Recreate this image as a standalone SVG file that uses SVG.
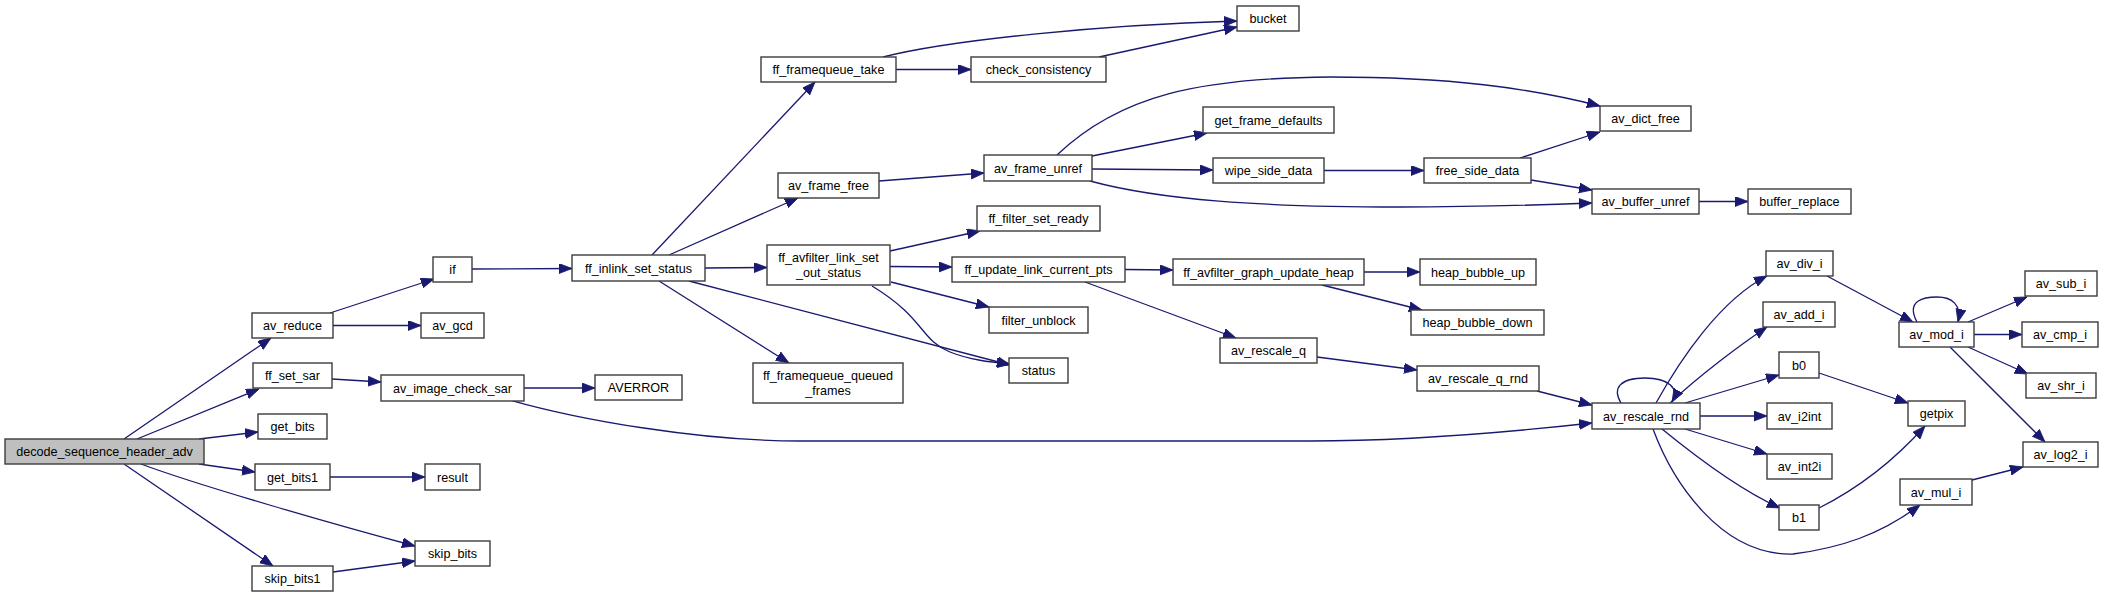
<svg xmlns="http://www.w3.org/2000/svg" width="2104" height="597" viewBox="0 0 2104 597">
<style>
.n rect{fill:#ffffff;stroke:#3c3c3c;stroke-width:1.4}
.n.root rect{fill:#bfbfbf}
.n text{font-family:"Liberation Sans",Arial,sans-serif;font-size:12.6px;fill:#000;text-anchor:middle}
.e path{fill:none;stroke:#191970;stroke-width:1.3;marker-end:url(#ah)}
</style>
<defs>
<marker id="ah" markerUnits="userSpaceOnUse" markerWidth="14" markerHeight="11" refX="13" refY="5" orient="auto">
<path d="M0,0 L13,5 L0,10 z" fill="#191970" stroke="#191970" stroke-width="0.8"/>
</marker>
</defs>
<rect width="2104" height="597" fill="#ffffff"/>
<g id="edges" class="e">
<path d="M124,439 L271,338"/>
<path d="M137,439 L259,389"/>
<path d="M199,439 L258,432"/>
<path d="M199,464 L255,472"/>
<path d="M141,464 C200,486 340,526 415,546"/>
<path d="M124,464 L273,566"/>
<path d="M330,313 L434,279"/>
<path d="M333,325.5 L421,325.5"/>
<path d="M332,379 L381,382"/>
<path d="M330,477 L425,477"/>
<path d="M333,572 L415,561"/>
<path d="M472,269 L572,268.5"/>
<path d="M524,388 L595,388"/>
<path d="M510,400 C580,420 700,441 800,441 L1310,441 C1420,441 1520,431 1592,423"/>
<path d="M652,255 L815,82"/>
<path d="M669,255 L798,198"/>
<path d="M705,268 L767,267.5"/>
<path d="M659,281 L789,363"/>
<path d="M689,281 L1010,365"/>
<path d="M883,57 C950,40 1100,25 1237,21"/>
<path d="M896,69.5 L971,69.5"/>
<path d="M1099,57 L1237,27"/>
<path d="M879,181 L984,173"/>
<path d="M1057,155 C1120,95 1200,78 1330,77 C1450,77 1530,88 1600,106"/>
<path d="M1092,156 L1207,133"/>
<path d="M1092,169 L1213,170"/>
<path d="M1090,181 C1160,200 1260,207 1400,207 C1480,207 1540,205 1592,203"/>
<path d="M1324,170.5 L1424,170.5"/>
<path d="M1520,158 L1600,132"/>
<path d="M1531,180 L1592,190"/>
<path d="M1699,201.5 L1748,201.5"/>
<path d="M890,251 L980,231"/>
<path d="M890,266.5 L952,267"/>
<path d="M891,282 L989,307"/>
<path d="M872,286 C925,318 920,340 950,352 C970,360 990,362 1010,364"/>
<path d="M1125,269.5 L1173,270"/>
<path d="M1085,282 L1236,338"/>
<path d="M1364,272 L1420,272"/>
<path d="M1322,285 L1422,310"/>
<path d="M1317,357 L1417,370"/>
<path d="M1537,391 L1592,405"/>
<path d="M1621,403 C1612,388 1620,378 1645,378 C1668,378 1680,388 1672,402"/>
<path d="M1656,403 C1680,360 1720,300 1767,276"/>
<path d="M1670,403 C1700,375 1740,345 1767,327"/>
<path d="M1685,403 L1779,375"/>
<path d="M1700,416 L1767,416"/>
<path d="M1685,429 L1767,454"/>
<path d="M1662,429 C1700,460 1740,490 1780,508"/>
<path d="M1653,429 C1672,480 1720,556 1793,554 C1840,548 1880,535 1920,505"/>
<path d="M1827,276 L1913,322"/>
<path d="M1917,322 C1905,300 1925,297 1937,297 C1952,297 1962,305 1958,322"/>
<path d="M1968,322 L2027,297"/>
<path d="M1974,334.5 L2022,334.5"/>
<path d="M1968,347 L2028,374"/>
<path d="M1950,347 L2045,442"/>
<path d="M1819,373 L1908,403"/>
<path d="M1819,508 C1855,490 1890,465 1925,426"/>
<path d="M1972,480 L2023,467"/>
</g>
<g id="decode_sequence_header_adv" class="n root"><rect x="5" y="439" width="199" height="25"/><text x="104.5" y="456">decode_sequence_header_adv</text></g>
<g id="av_reduce" class="n"><rect x="252" y="313" width="81" height="25"/><text x="292.5" y="330">av_reduce</text></g>
<g id="av_gcd" class="n"><rect x="421" y="313" width="63" height="25"/><text x="452.5" y="330">av_gcd</text></g>
<g id="ff_set_sar" class="n"><rect x="253" y="363" width="79" height="25"/><text x="292.5" y="380">ff_set_sar</text></g>
<g id="av_image_check_sar" class="n"><rect x="381" y="375" width="143" height="26"/><text x="452.5" y="392.5">av_image_check_sar</text></g>
<g id="AVERROR" class="n"><rect x="595" y="375" width="87" height="25"/><text x="638.5" y="392">AVERROR</text></g>
<g id="get_bits" class="n"><rect x="258" y="414" width="69" height="25"/><text x="292.5" y="431">get_bits</text></g>
<g id="get_bits1" class="n"><rect x="255" y="464" width="75" height="26"/><text x="292.5" y="481.5">get_bits1</text></g>
<g id="result" class="n"><rect x="425" y="464" width="55" height="26"/><text x="452.5" y="481.5">result</text></g>
<g id="skip_bits" class="n"><rect x="415" y="541" width="75" height="25"/><text x="452.5" y="558">skip_bits</text></g>
<g id="skip_bits1" class="n"><rect x="252" y="566" width="81" height="25"/><text x="292.5" y="583">skip_bits1</text></g>
<g id="if" class="n"><rect x="433" y="257" width="39" height="25"/><text x="452.5" y="274">if</text></g>
<g id="ff_inlink_set_status" class="n"><rect x="572" y="255" width="133" height="26"/><text x="638.5" y="272.5">ff_inlink_set_status</text></g>
<g id="ff_framequeue_take" class="n"><rect x="761" y="57" width="135" height="25"/><text x="828.5" y="74">ff_framequeue_take</text></g>
<g id="av_frame_free" class="n"><rect x="778" y="173" width="101" height="25"/><text x="828.5" y="190">av_frame_free</text></g>
<g id="ff_avfilter_link_set_out_status" class="n"><rect x="767" y="245" width="123" height="40"/><text x="828.5" y="261.5">ff_avfilter_link_set</text><text x="828.5" y="276.5">_out_status</text></g>
<g id="ff_framequeue_queued_frames" class="n"><rect x="753" y="363" width="150" height="40"/><text x="828" y="379.5">ff_framequeue_queued</text><text x="828" y="394.5">_frames</text></g>
<g id="bucket" class="n"><rect x="1237" y="6" width="62" height="25"/><text x="1268" y="23">bucket</text></g>
<g id="check_consistency" class="n"><rect x="971" y="57" width="135" height="25"/><text x="1038.5" y="74">check_consistency</text></g>
<g id="av_frame_unref" class="n"><rect x="984" y="155" width="108" height="26"/><text x="1038" y="172.5">av_frame_unref</text></g>
<g id="ff_filter_set_ready" class="n"><rect x="977" y="206" width="123" height="25"/><text x="1038.5" y="223">ff_filter_set_ready</text></g>
<g id="ff_update_link_current_pts" class="n"><rect x="952" y="257" width="173" height="25"/><text x="1038.5" y="274">ff_update_link_current_pts</text></g>
<g id="filter_unblock" class="n"><rect x="989" y="307" width="99" height="26"/><text x="1038.5" y="324.5">filter_unblock</text></g>
<g id="status" class="n"><rect x="1009" y="358" width="59" height="25"/><text x="1038.5" y="375">status</text></g>
<g id="get_frame_defaults" class="n"><rect x="1203" y="107" width="131" height="26"/><text x="1268.5" y="124.5">get_frame_defaults</text></g>
<g id="wipe_side_data" class="n"><rect x="1213" y="158" width="111" height="25"/><text x="1268.5" y="175">wipe_side_data</text></g>
<g id="ff_avfilter_graph_update_heap" class="n"><rect x="1173" y="259" width="191" height="26"/><text x="1268.5" y="276.5">ff_avfilter_graph_update_heap</text></g>
<g id="av_rescale_q" class="n"><rect x="1220" y="338" width="97" height="25"/><text x="1268.5" y="355">av_rescale_q</text></g>
<g id="free_side_data" class="n"><rect x="1424" y="158" width="107" height="25"/><text x="1477.5" y="175">free_side_data</text></g>
<g id="heap_bubble_up" class="n"><rect x="1420" y="259" width="116" height="26"/><text x="1478" y="276.5">heap_bubble_up</text></g>
<g id="heap_bubble_down" class="n"><rect x="1411" y="310" width="133" height="25"/><text x="1477.5" y="327">heap_bubble_down</text></g>
<g id="av_rescale_q_rnd" class="n"><rect x="1417" y="366" width="122" height="25"/><text x="1478" y="383">av_rescale_q_rnd</text></g>
<g id="av_dict_free" class="n"><rect x="1600" y="106" width="91" height="25"/><text x="1645.5" y="123">av_dict_free</text></g>
<g id="av_buffer_unref" class="n"><rect x="1592" y="189" width="107" height="25"/><text x="1645.5" y="206">av_buffer_unref</text></g>
<g id="buffer_replace" class="n"><rect x="1748" y="189" width="103" height="25"/><text x="1799.5" y="206">buffer_replace</text></g>
<g id="av_rescale_rnd" class="n"><rect x="1592" y="403" width="108" height="26"/><text x="1646" y="420.5">av_rescale_rnd</text></g>
<g id="av_div_i" class="n"><rect x="1766" y="251" width="67" height="25"/><text x="1799.5" y="268">av_div_i</text></g>
<g id="av_add_i" class="n"><rect x="1763" y="302" width="72" height="25"/><text x="1799" y="319">av_add_i</text></g>
<g id="b0" class="n"><rect x="1779" y="352" width="40" height="26"/><text x="1799" y="369.5">b0</text></g>
<g id="av_i2int" class="n"><rect x="1767" y="403" width="65" height="26"/><text x="1799.5" y="420.5">av_i2int</text></g>
<g id="av_int2i" class="n"><rect x="1767" y="454" width="65" height="25"/><text x="1799.5" y="471">av_int2i</text></g>
<g id="b1" class="n"><rect x="1779" y="505" width="40" height="25"/><text x="1799" y="522">b1</text></g>
<g id="av_mod_i" class="n"><rect x="1899" y="322" width="75" height="25"/><text x="1936.5" y="339">av_mod_i</text></g>
<g id="getpix" class="n"><rect x="1908" y="401" width="57" height="25"/><text x="1936.5" y="418">getpix</text></g>
<g id="av_mul_i" class="n"><rect x="1900" y="479" width="72" height="26"/><text x="1936" y="496.5">av_mul_i</text></g>
<g id="av_sub_i" class="n"><rect x="2025" y="271" width="72" height="25"/><text x="2061" y="288">av_sub_i</text></g>
<g id="av_cmp_i" class="n"><rect x="2022" y="322" width="76" height="25"/><text x="2060" y="339">av_cmp_i</text></g>
<g id="av_shr_i" class="n"><rect x="2026" y="373" width="70" height="25"/><text x="2061" y="390">av_shr_i</text></g>
<g id="av_log2_i" class="n"><rect x="2023" y="442" width="75" height="25"/><text x="2060.5" y="459">av_log2_i</text></g>
</svg>
